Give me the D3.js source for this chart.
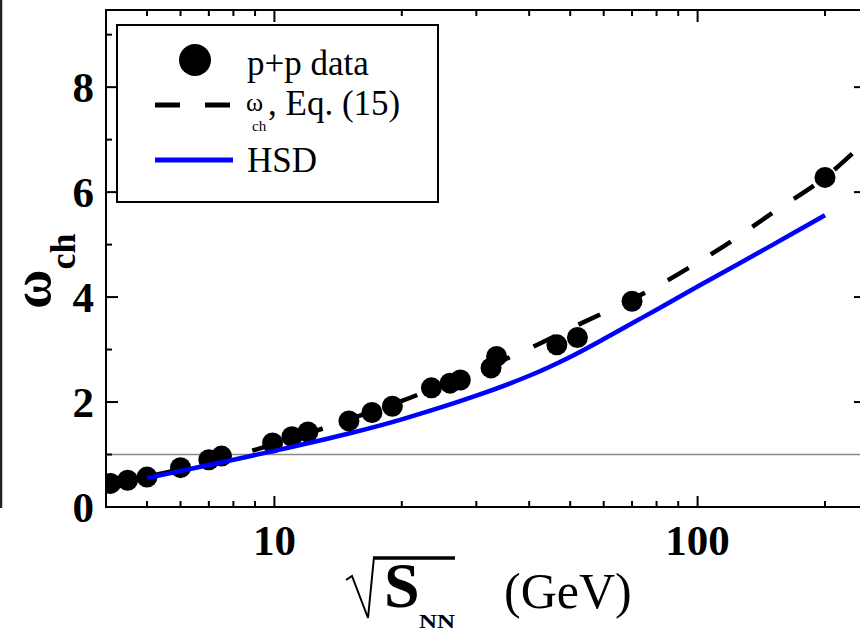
<!DOCTYPE html>
<html><head><meta charset="utf-8">
<script src="https://cdn.jsdelivr.net/npm/d3@7"></script>
<style>body{margin:0;background:#fff}svg{display:block}</style>
</head><body>
<svg id="c" width="860" height="637"></svg>
<script>
// ---- data ----
const ppEnergy = [4.1, 4.5, 5.0, 6.0, 7.0, 7.5, 9.9, 11.0, 12.0, 15.0, 17.0, 19.0, 23.5, 26.0, 27.5, 32.5, 33.5, 46.5, 52.0, 70.0, 200];
const ppOmega  = [0.45, 0.51, 0.57, 0.75, 0.90, 0.97, 1.22, 1.34, 1.43, 1.64, 1.80, 1.92, 2.27, 2.36, 2.42, 2.65, 2.87, 3.09, 3.23, 3.92, 6.28];
const eqEnergy = [4, 5, 6, 7, 8, 10, 12, 15, 20, 25, 30, 40, 50, 60, 70, 80, 100, 120, 150, 200, 250];
const eqOmega  = [0.45, 0.58, 0.72, 0.85, 0.97, 1.2, 1.4, 1.67, 2.02, 2.33, 2.58, 3.02, 3.40, 3.70, 3.96, 4.2, 4.66, 5.06, 5.6, 6.28, 6.98];
const hsdEnergy = [5, 7, 10, 15, 20, 30, 40, 50, 60, 70, 80, 100, 150, 200];
const hsdOmega  = [0.55, 0.80, 1.07, 1.40, 1.67, 2.12, 2.50, 2.86, 3.20, 3.50, 3.76, 4.20, 4.99, 5.56];
const xMajorTicks = [10, 100];
const xMinorTicks = [5, 6, 7, 8, 9, 20, 30, 40, 50, 60, 70, 80, 90, 200];
const yMajorTicks = [0, 2, 4, 6, 8];
const yMinorTicks = [1, 3, 5, 7, 9];
const legendLabels = ["p+p data", "Eq. (15)", "HSD"];

// ---- layout ----
const L = 106, R = 866, T = 10, B = 507;
const x = d3.scaleLog().domain([4, 250]).range([L, R]);
const y = d3.scaleLinear().domain([0, 9.47]).range([B, T]);
const svg = d3.select("#c");
const serif = "'Liberation Serif', 'Times New Roman', serif";

// left-edge artifact of neighbouring panel
svg.append("line").attr("x1", 1).attr("x2", 1).attr("y1", 0).attr("y2", 508)
  .attr("stroke", "#222").attr("stroke-width", 2.5);

svg.append("defs").append("clipPath").attr("id", "clip")
  .append("rect").attr("x", L).attr("y", T).attr("width", R - L).attr("height", B - T);
const plot = svg.append("g").attr("clip-path", "url(#clip)");

// reference line at 1
plot.append("line").attr("x1", L).attr("x2", R).attr("y1", y(1)).attr("y2", y(1))
  .attr("stroke", "#8a8a8a").attr("stroke-width", 1.5);

const eqData = eqEnergy.map((e, i) => [e, eqOmega[i]]);
const hsdData = hsdEnergy.map((e, i) => [e, hsdOmega[i]]);
const line = d3.line().x(d => x(d[0])).y(d => y(d[1])).curve(d3.curveCatmullRom.alpha(0.5));

plot.append("path").attr("d", line(eqData)).attr("fill", "none")
  .attr("stroke", "#000").attr("stroke-width", 4.5).attr("stroke-dasharray", "24,26");

plot.selectAll("circle.pp").data(ppEnergy).enter().append("circle")
  .attr("class", "pp").attr("cx", d => x(d)).attr("cy", (d, i) => y(ppOmega[i]))
  .attr("r", 10.5).attr("fill", "#000");

plot.append("path").attr("d", line(hsdData)).attr("fill", "none")
  .attr("stroke", "#0000ff").attr("stroke-width", 4.5);

// frame
svg.append("rect").attr("x", L).attr("y", T).attr("width", R - L).attr("height", B - T)
  .attr("fill", "none").attr("stroke", "#000").attr("stroke-width", 2);

// ticks
const tk = svg.append("g").attr("stroke", "#000").attr("stroke-width", 2);
xMajorTicks.forEach(v => {
  tk.append("line").attr("x1", x(v)).attr("x2", x(v)).attr("y1", B).attr("y2", B - 11);
  tk.append("line").attr("x1", x(v)).attr("x2", x(v)).attr("y1", T).attr("y2", T + 12);
});
xMinorTicks.forEach(v => {
  tk.append("line").attr("x1", x(v)).attr("x2", x(v)).attr("y1", B).attr("y2", B - 6);
  tk.append("line").attr("x1", x(v)).attr("x2", x(v)).attr("y1", T).attr("y2", T + 6);
});
yMajorTicks.forEach(v => {
  tk.append("line").attr("x1", L).attr("x2", L + 12).attr("y1", y(v)).attr("y2", y(v));
  tk.append("line").attr("x1", R).attr("x2", R - 12).attr("y1", y(v)).attr("y2", y(v));
});
yMinorTicks.forEach(v => {
  tk.append("line").attr("x1", L).attr("x2", L + 6).attr("y1", y(v)).attr("y2", y(v));
  tk.append("line").attr("x1", R).attr("x2", R - 6).attr("y1", y(v)).attr("y2", y(v));
});

// tick labels
svg.selectAll("text.yl").data(yMajorTicks).enter().append("text")
  .attr("x", 94).attr("y", d => y(d) + 15).attr("text-anchor", "end")
  .attr("font-family", serif).attr("font-weight", "bold").attr("font-size", 43)
  .text(d => d);
svg.selectAll("text.xl").data(xMajorTicks).enter().append("text")
  .attr("x", d => x(d)).attr("y", 555).attr("text-anchor", "middle")
  .attr("font-family", serif).attr("font-weight", "bold").attr("font-size", 43)
  .text(d => d);

// y title
const yt = svg.append("text").attr("transform", "translate(50,309) rotate(-90)")
  .attr("font-family", serif).attr("font-weight", "bold");
yt.append("tspan").attr("font-size", 54).text("ω");
yt.append("tspan").attr("font-size", 36).attr("dy", 25).text("ch");

// x title
svg.append("path").attr("d", "M346,580 L352,576 L368,618 L374,557")
  .attr("fill", "none").attr("stroke", "#000").attr("stroke-width", 2);
svg.append("line").attr("x1", 373).attr("x2", 455).attr("y1", 558).attr("y2", 558)
  .attr("stroke", "#000").attr("stroke-width", 3.5);
svg.append("text").attr("x", 384).attr("y", 607).attr("font-family", serif)
  .attr("font-weight", "bold").attr("font-size", 64).text("S");
svg.append("text").attr("x", 419).attr("y", 628).attr("font-family", serif)
  .attr("font-weight", "bold").attr("font-size", 19).attr("textLength", 36)
  .attr("lengthAdjust", "spacingAndGlyphs").text("NN");
svg.append("text").attr("x", 504).attr("y", 608).attr("font-family", serif)
  .attr("font-size", 50).text("(GeV)");

// legend
const lg = svg.append("g");
lg.append("rect").attr("x", 117).attr("y", 25).attr("width", 321).attr("height", 177)
  .attr("fill", "#fff").attr("stroke", "#000").attr("stroke-width", 2);
lg.append("circle").attr("cx", 195).attr("cy", 60).attr("r", 16).attr("fill", "#000");
lg.append("text").attr("x", 247).attr("y", 75).attr("font-family", serif)
  .attr("font-size", 35).text(legendLabels[0]);
lg.append("line").attr("x1", 155).attr("x2", 232).attr("y1", 105).attr("y2", 105)
  .attr("stroke", "#000").attr("stroke-width", 5).attr("stroke-dasharray", "25,25");
lg.append("text").attr("x", 246).attr("y", 111).attr("font-family", serif)
  .attr("font-size", 26).text("ω");
lg.append("text").attr("x", 252).attr("y", 131).attr("font-family", serif)
  .attr("font-size", 15).text("ch");
lg.append("text").attr("x", 268).attr("y", 115).attr("font-family", serif)
  .attr("font-size", 35).text(", " + legendLabels[1]);
lg.append("line").attr("x1", 155).attr("x2", 233).attr("y1", 160).attr("y2", 160)
  .attr("stroke", "#0000ff").attr("stroke-width", 5);
lg.append("text").attr("x", 247).attr("y", 172).attr("font-family", serif)
  .attr("font-size", 35).text(legendLabels[2]);
</script>
</body></html>
